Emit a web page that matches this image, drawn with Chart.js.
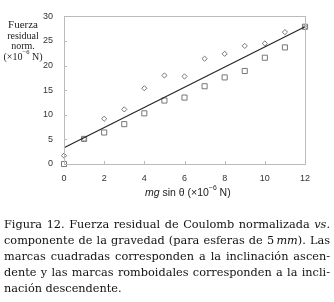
<!DOCTYPE html>
<html>
<head>
<meta charset="utf-8">
<script src="https://cdn.jsdelivr.net/npm/chart.js@4/dist/chart.umd.min.js"></script>
<style>
  html, body { margin: 0; padding: 0; background: #fff; }
  body { width: 334px; height: 302px; position: relative; overflow: hidden; }
  #wrap { position: absolute; left: 0; top: 0; width: 334px; height: 210px; }
  .ytitle { position: absolute; left: 0; top: 19px; width: 46px; text-align: center;
    font-family: "Liberation Serif", serif; font-size: 10px; line-height: 10.5px; color: #222; }
  .ytitle .big { font-size: 11px; }
  .xtitle { position: absolute; left: 145px; top: 186px; white-space: nowrap;
    font-family: "Liberation Sans", Arial, sans-serif; font-size: 10.5px; color: #222; }
  sup { font-size: 0.65em; line-height: 0; position: relative; top: -0.15em; vertical-align: super; }
  .caption { position: absolute; left: 4px; top: 217px; width: 326px;
    font-family: "DejaVu Serif", serif; font-size: 11.3px; line-height: 16px; color: #111; }
  .caption div { text-align: justify; text-align-last: justify; white-space: nowrap; }
  .caption div.last { text-align-last: left; }
</style>
</head>
<body>
<div id="wrap"><canvas id="chart"></canvas></div>
<div class="ytitle"><span class="big">Fuerza</span><br>residual<br>norm.<br>(×10<sup>−6</sup> N)</div>
<div class="xtitle"><i>mg</i> sin θ (×10<sup>−6</sup> N)</div>
<div class="caption">
  <div>Figura 12. Fuerza residual de Coulomb normalizada <i>vs.</i></div>
  <div>componente de la gravedad (para esferas de 5&#8201;<i>mm</i>). Las</div>
  <div>marcas cuadradas corresponden a la inclinación ascen-</div>
  <div>dente y las marcas romboidales corresponden a la incli-</div>
  <div class="last">nación descendente.</div>
</div>
<script>
const xValues = [0, 1, 2, 3, 4, 5, 6, 7, 8, 9, 10, 11, 12];
// diamonds: descending inclination
const descending = [1.7, 5.1, 9.2, 11.1, 15.4, 18.0, 17.8, 21.4, 22.4, 24.0, 24.5, 26.8, 27.8];
// squares: ascending inclination
const ascending = [0, 5.1, 6.4, 8.1, 10.3, 12.9, 13.5, 15.8, 17.6, 18.9, 21.6, 23.7, 27.9];
// fitted line end points
const fitX = [0, 12];
const fitY = [3.3, 27.9];
const xTicks = [0, 2, 4, 6, 8, 10, 12];
const yTicks = [0, 5, 10, 15, 20, 25, 30];

const toPoints = (xs, ys) => xs.map((x, i) => ({ x: x, y: ys[i] }));

// light frame round the plot, with short inward ticks
const framePlugin = {
    id: 'frame',
    afterDatasetsDraw(chart) {
        const { ctx, chartArea: a, scales } = chart;
        ctx.save();
        ctx.strokeStyle = '#bbb';
        ctx.lineWidth = 1;
        ctx.strokeRect(Math.round(a.left) + 0.5, Math.round(a.top) + 0.5,
            Math.round(a.right - a.left), Math.round(a.bottom - a.top));
        ctx.beginPath();
        xTicks.forEach(v => {
            const px = Math.round(scales.x.getPixelForValue(v)) + 0.5;
            ctx.moveTo(px, a.bottom);
            ctx.lineTo(px, a.bottom - 3);
        });
        yTicks.forEach(v => {
            const py = Math.round(scales.y.getPixelForValue(v)) + 0.5;
            ctx.moveTo(a.left, py);
            ctx.lineTo(a.left + 3, py);
        });
        ctx.stroke();
        ctx.restore();
    }
};

const ctx = document.getElementById('chart').getContext('2d');
new Chart(ctx, {
    type: 'scatter',
    data: {
        datasets: [{
            label: 'ajuste',
            data: toPoints(fitX, fitY),
            showLine: true,
            borderColor: '#222',
            borderWidth: 1.1,
            pointRadius: 0,
            clip: false
        }, {
            label: 'descendente',
            data: toPoints(xValues, descending),
            pointStyle: 'rectRot',
            pointRadius: 2.6,
            borderColor: '#777',
            backgroundColor: '#fff',
            borderWidth: 1,
            clip: false
        }, {
            label: 'ascendente',
            data: toPoints(xValues, ascending),
            pointStyle: 'rect',
            pointRadius: 3.6,
            borderColor: '#777',
            backgroundColor: '#fff',
            borderWidth: 1,
            clip: false
        }]
    },
    options: {
        responsive: true,
        maintainAspectRatio: false,
        animation: false,
        layout: { padding: { left: 0, right: 29, top: 13, bottom: 0 } },
        scales: {
            x: {
                type: 'linear',
                min: 0,
                max: 12,
                afterBuildTicks: s => { s.ticks = xTicks.map(v => ({ value: v })); },
                afterFit: s => { s.height = 46; },
                grid: { display: false, drawTicks: false },
                border: { display: false },
                ticks: {
                    padding: 9,
                    color: '#333',
                    font: { family: 'Liberation Sans', size: 9 }
                }
            },
            y: {
                type: 'linear',
                min: 0,
                max: 30,
                afterBuildTicks: s => { s.ticks = yTicks.map(v => ({ value: v })); },
                afterFit: s => { s.width = 64; },
                grid: { display: false, drawTicks: false },
                border: { display: false },
                ticks: {
                    padding: 11,
                    color: '#333',
                    font: { family: 'Liberation Sans', size: 9 }
                }
            }
        },
        plugins: {
            legend: { display: false },
            tooltip: { enabled: false }
        }
    },
    plugins: [framePlugin]
});
</script>
</body>
</html>
